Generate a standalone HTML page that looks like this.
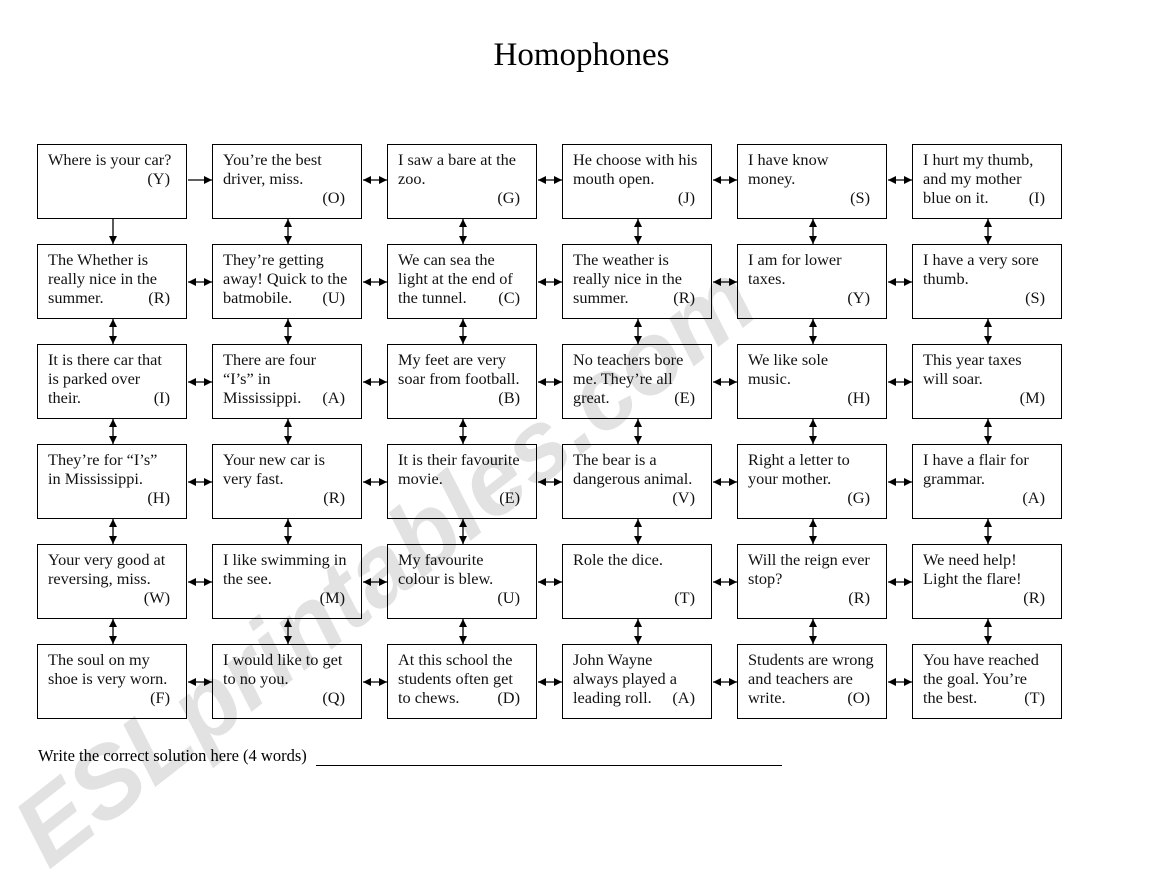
<!DOCTYPE html>
<html><head><meta charset="utf-8"><style>
body{margin:0;width:1169px;height:821px;background:#fff;position:relative;overflow:hidden;font-family:"Liberation Serif",serif;}
.wm{position:absolute;left:385px;top:565px;transform:translate(-50%,-50%) rotate(-38deg);font-family:"Liberation Sans",sans-serif;font-weight:bold;font-style:italic;font-size:100px;color:#e2e2e2;white-space:nowrap;}
.b{position:absolute;width:148px;height:73px;border:1.5px solid #000;font-size:16.3px;line-height:19px;color:#111;}
.b .t{position:absolute;left:10px;top:5px;right:2px;white-space:nowrap;}
.b .l{position:absolute;right:16px;top:43px;}
h1{position:absolute;left:0;width:1163px;top:37px;margin:0;text-align:center;font-weight:normal;font-size:33px;}
.f{position:absolute;left:38px;top:746px;font-size:16.5px;}
.line{position:absolute;left:316px;top:765px;width:466px;border-top:1px solid #000;}
svg{position:absolute;left:0;top:0;}
</style></head><body>
<div class="wm">ESLprintables.com</div>
<h1>Homophones</h1>
<svg width="1169" height="821" id="s"></svg>
<div id="g"></div>
<div class="f">Write the correct solution here (4 words)</div><div class="line"></div>
<script>
var d=[
[["Where is your car?","Y",2],["You’re the best<br>driver, miss.","O",3],["I saw a bare at the<br>zoo.","G",3],["He choose with his<br>mouth open.","J",3],["I have know<br>money.","S",3],["I hurt my thumb,<br>and my mother<br>blue on it.","I",3]],
[["The Whether is<br>really nice in the<br>summer.","R",3],["They’re getting<br>away! Quick to the<br>batmobile.","U",3],["We can sea the<br>light at the end of<br>the tunnel.","C",3],["The weather is<br>really nice in the<br>summer.","R",3],["I am for lower<br>taxes.","Y",3],["I have a very sore<br>thumb.","S",3]],
[["It is there car that<br>is parked over<br>their.","I",3],["There are four<br>“I’s” in<br>Mississippi.","A",3],["My feet are very<br>soar from football.","B",3],["No teachers bore<br>me. They’re all<br>great.","E",3],["We like sole<br>music.","H",3],["This year taxes<br>will soar.","M",3]],
[["They’re for “I’s”<br>in Mississippi.","H",3],["Your new car is<br>very fast.","R",3],["It is their favourite<br>movie.","E",3],["The bear is a<br>dangerous animal.","V",3],["Right a letter to<br>your mother.","G",3],["I have a flair for<br>grammar.","A",3]],
[["Your very good at<br>reversing, miss.","W",3],["I like swimming in<br>the see.","M",3],["My favourite<br>colour is blew.","U",3],["Role the dice.","T",3],["Will the reign ever<br>stop?","R",3],["We need help!<br>Light the flare!","R",3]],
[["The soul on my<br>shoe is very worn.","F",3],["I would like to get<br>to no you.","Q",3],["At this school the<br>students often get<br>to chews.","D",3],["John Wayne<br>always played a<br>leading roll.","A",3],["Students are wrong<br>and teachers are<br>write.","O",3],["You have reached<br>the goal. You’re<br>the best.","T",3]]];
var h="",s="";
function tri(x,y,dir){var a=5,w=4;
 if(dir=="r")return `<polygon points="${x},${y} ${x-a*1.6},${y-w} ${x-a*1.6},${y+w}"/>`;
 if(dir=="l")return `<polygon points="${x},${y} ${x+a*1.6},${y-w} ${x+a*1.6},${y+w}"/>`;
 if(dir=="d")return `<polygon points="${x},${y} ${x-w},${y-a*1.6} ${x+w},${y-a*1.6}"/>`;
 return `<polygon points="${x},${y} ${x-w},${y+a*1.6} ${x+w},${y+a*1.6}"/>`;}
for(var r=0;r<6;r++)for(var c=0;c<6;c++){
 var x=37+c*175,y=144+r*100,e=d[r][c];
 var ly=e[2]==1?5:e[2]==2?24:43;
 h+=`<div class="b" style="left:${x}px;top:${y}px"><div class="t">${e[0]}</div><div class="l" style="top:${ly}px">(${e[1]})</div></div>`;
 var cy=y+(r==0?36:38);
 if(c<5){var x1=x+151,x2=x+175;
  s+=`<line x1="${x1}" y1="${cy}" x2="${x2}" y2="${cy}" stroke="#000" stroke-width="1.3"/>`+tri(x2,cy,"r");
  if(!(r==0&&c==0))s+=tri(x1,cy,"l");}
 if(r<5){var cx=x+76,y1=y+75,y2=y+100;
  s+=`<line x1="${cx}" y1="${y1}" x2="${cx}" y2="${y2}" stroke="#000" stroke-width="1.3"/>`+tri(cx,y2,"d");
  if(!(r==0&&c==0))s+=tri(cx,y1,"u");}
}
document.getElementById("g").innerHTML=h;document.getElementById("s").innerHTML=s;
</script>
</body></html>
